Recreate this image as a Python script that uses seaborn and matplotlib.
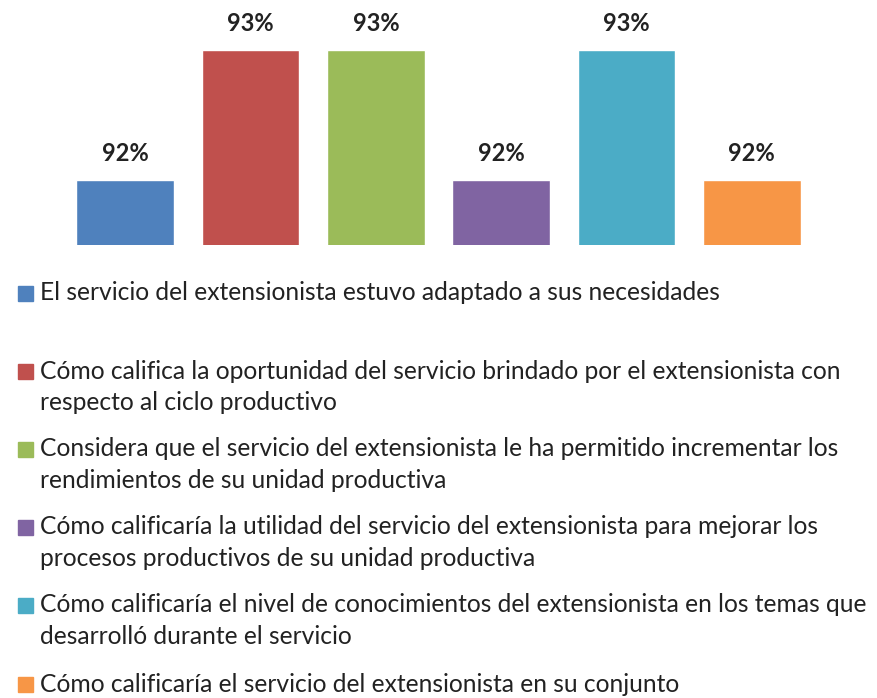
import matplotlib
matplotlib.use("Agg")
import matplotlib.pyplot as plt
import seaborn as sns
import pandas as pd
from matplotlib.patches import Rectangle

categories = [
    "El servicio del extensionista estuvo adaptado a sus necesidades",
    "Cómo califica la oportunidad del servicio brindado por el extensionista con\nrespecto al ciclo productivo",
    "Considera que el servicio del extensionista le ha permitido incrementar los\nrendimientos de su unidad productiva",
    "Cómo calificaría la utilidad del servicio del extensionista para mejorar los\nprocesos productivos de su unidad productiva",
    "Cómo calificaría el nivel de conocimientos del extensionista en los temas que\ndesarrolló durante el servicio",
    "Cómo calificaría el servicio del extensionista en su conjunto",
]
values = [92, 93, 93, 92, 93, 92]
value_labels = ["92%", "93%", "93%", "92%", "93%", "92%"]
colors = ["#4F81BD", "#C0504D", "#9BBB59", "#8064A2", "#4BACC6", "#F79646"]

sns.set_style("white")
plt.rcParams['font.family'] = ['Lato', 'DejaVu Sans']

W, H = 878, 698
fig = plt.figure(figsize=(W / 100, H / 100), dpi=100)
ax = fig.add_axes([62.5 / W, 1 - 245 / H, 752 / W, 245 / H])

df = pd.DataFrame({"cat": categories, "val": values})
sns.barplot(data=df, x="cat", y="val", hue="cat", palette=colors, legend=False,
            width=0.78, saturation=1, ax=ax)
ax.set_xlim(-0.5, 5.5)
ax.set_ylim(91.5, 91.5 + 245 / 130)
ax.axis("off")

for i, (v, lab) in enumerate(zip(values, value_labels)):
    ax.annotate(lab, (i, v), xytext=(0, 26), textcoords="offset pixels",
                ha="center", va="center", fontsize=17, fontweight="bold",
                color="#222222")

# legend
y_first = [293, 371, 449, 527, 605, 684]
for cat, col, yc in zip(categories, colors, y_first):
    fig.patches.append(Rectangle((18 / W, 1 - (yc + 7.5) / H), 15 / W, 15 / H,
                                 transform=fig.transFigure, color=col, figure=fig))
    for k, line in enumerate(cat.split("\n")):
        fig.text(40 / W, 1 - (yc + 32 * k) / H, line, ha="left", va="center",
                 fontsize=17.7, color="#222222")

fig.savefig("out.png", dpi=100)
